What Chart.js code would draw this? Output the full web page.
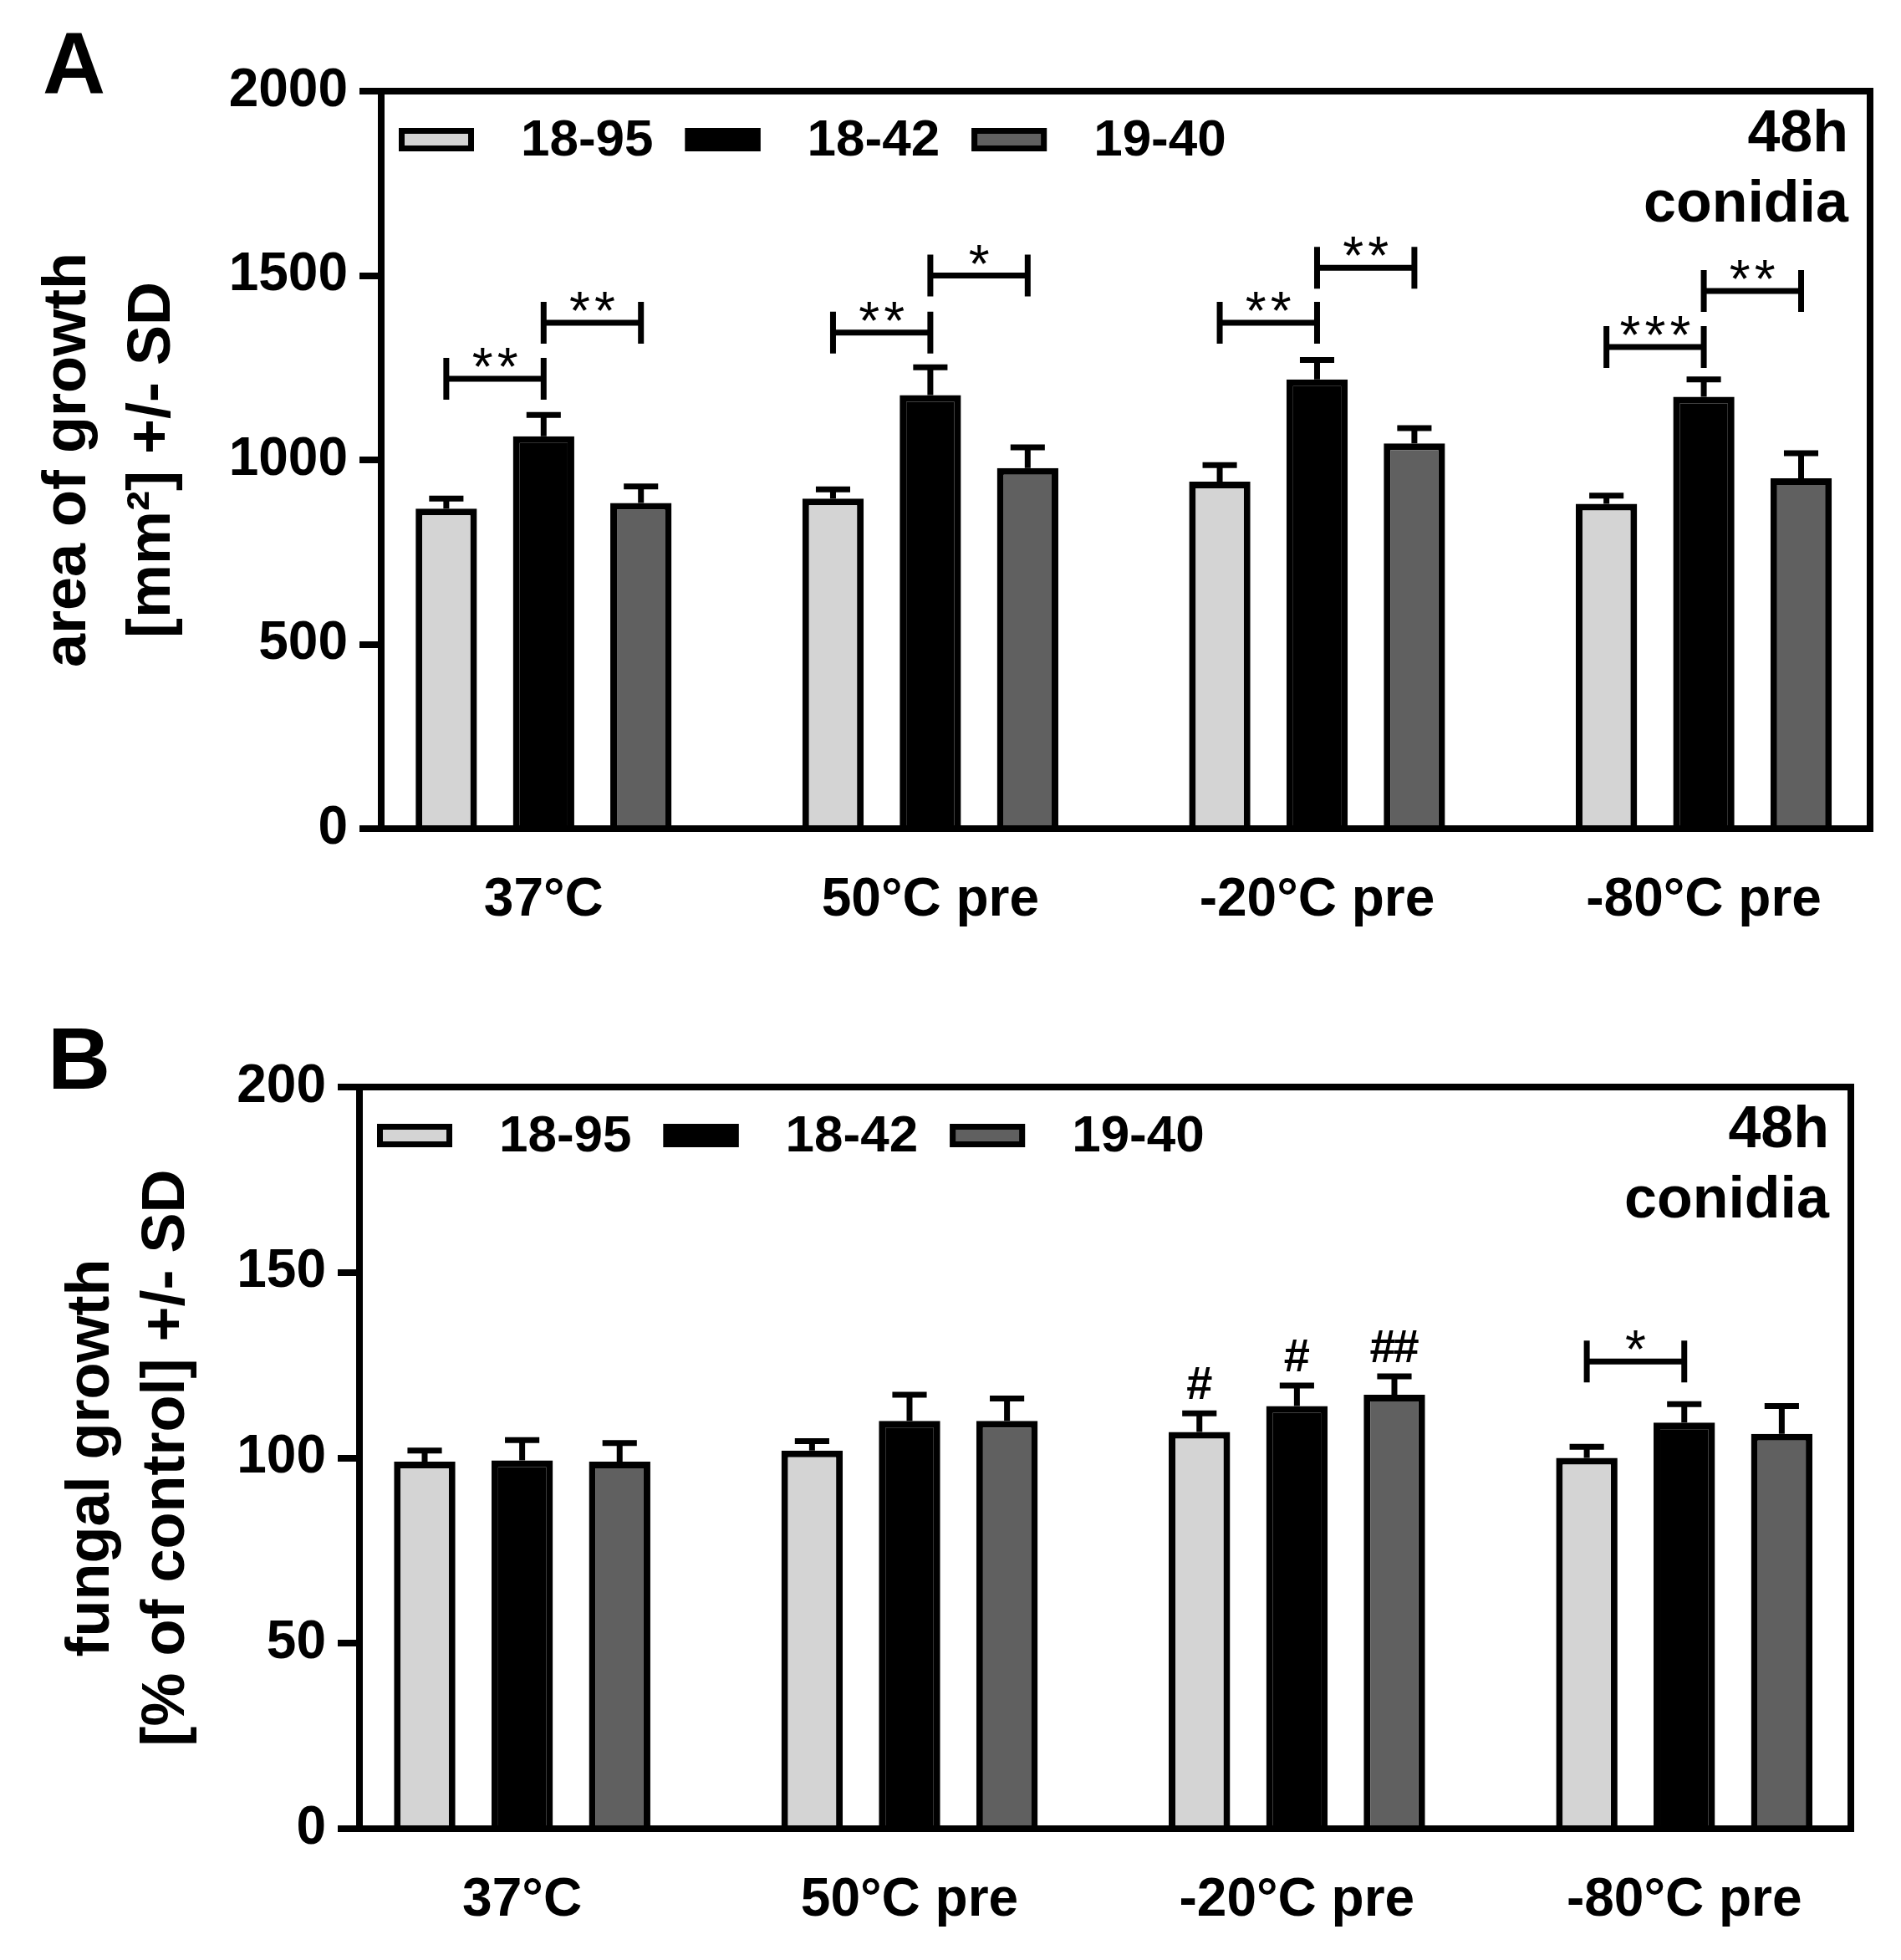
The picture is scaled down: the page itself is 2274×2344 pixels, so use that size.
<!DOCTYPE html>
<html>
<head>
<meta charset="utf-8">
<title>Fungal growth after temperature pre-treatment</title>
<script src="https://cdn.jsdelivr.net/npm/chart.js@4.4.1/dist/chart.umd.min.js"></script>
<style>
  body { margin: 0; background: #fff; }
  #wrap { position: relative; width: 2274px; height: 2344px; background: #fff; }
  canvas { position: absolute; left: 0; }
</style>
</head>
<body>
<div id="wrap">
  <canvas id="chartA" width="2274" height="1170" style="top:0px"></canvas>
  <canvas id="chartB" width="2274" height="1174" style="top:1170px"></canvas>
</div>
<script>
const groups = ['37°C', '50°C pre', '-20°C pre', '-80°C pre'];
const strains = ['18-95', '18-42', '19-40'];
const strainColors = ['#d4d4d4', '#000000', '#606060'];

// panel A - area of growth [mm2], mean and SD per strain
const areaMean1895 = [868, 895, 941, 881];
const areaSd1895 = [27, 25, 45, 22];
const areaMean1842 = [1064, 1176, 1218, 1171];
const areaSd1842 = [58, 75, 53, 47];
const areaMean1940 = [883, 978, 1045, 950];
const areaSd1940 = [45, 56, 41, 68];

// panel B - fungal growth [% of control], mean and SD per strain
const fungalMean1895 = [99, 102, 107, 100];
const fungalSd1895 = [3, 2.5, 5, 3];
const fungalMean1842 = [99.3, 110, 114, 109.5];
const fungalSd1842 = [5.5, 7, 5.5, 5];
const fungalMean1940 = [99, 110, 117, 106.5];
const fungalSd1940 = [5, 6, 5, 7.5];

// significance brackets: group, from strain, to strain, height, label
const areaBrackets = [
    [0, 0, 1, 1220, '**'], [0, 1, 2, 1372, '**'],
    [1, 0, 1, 1345, '**'], [1, 1, 2, 1500, '*'],
    [2, 0, 1, 1372, '**'], [2, 1, 2, 1521, '**'],
    [3, 0, 1, 1306, '***'], [3, 1, 2, 1458, '**']
];
const fungalBrackets = [
    [3, 0, 1, 126, '*']
];
// marks above single bars: group, strain, label
const fungalHashes = [
    [2, 0, '#'], [2, 1, '#'], [2, 2, '##']
];

const FONT = "'Liberation Sans', Arial, Helvetica, sans-serif";
Chart.defaults.font.family = FONT;
Chart.defaults.color = '#000';

function drawMarks(ctx, text, cx, bottom, font, step) {
    ctx.font = font;
    ctx.textAlign = 'center';
    ctx.textBaseline = 'alphabetic';
    const m = ctx.measureText(text[0]);
    const base = bottom - m.actualBoundingBoxDescent;
    const start = cx - step * (text.length - 1) / 2;
    for (let i = 0; i < text.length; i++) {
        ctx.fillText(text[i], start + i * step, base);
    }
}

function buildChart(id, opts) {
    const datasets = strains.map((name, s) => ({
        label: name,
        data: opts.means[s].map((v, g) => ({ x: g, y: v })),
        sd: opts.sds[s],
        backgroundColor: strainColors[s],
        borderColor: '#000',
        borderWidth: 8,
        categoryPercentage: 0.755,
        barPercentage: 0.63
    }));

    const decor = {
        id: 'decor',
        afterDatasetsDraw(chart) {
            const ctx = chart.ctx;
            const area = chart.chartArea;
            const y = chart.scales.y;
            ctx.save();
            ctx.strokeStyle = '#000';
            ctx.fillStyle = '#000';

            // frame on top and right
            ctx.lineWidth = 8;
            ctx.beginPath();
            ctx.moveTo(area.left - 4, area.top);
            ctx.lineTo(area.right, area.top);
            ctx.lineTo(area.right, area.bottom + 4);
            ctx.stroke();

            // error bars (upper SD only)
            ctx.lineWidth = 7;
            chart.data.datasets.forEach((ds, s) => {
                chart.getDatasetMeta(s).data.forEach((bar, g) => {
                    const top = y.getPixelForValue(ds.data[g].y + ds.sd[g]);
                    const half = bar.width * 0.28;
                    ctx.beginPath();
                    ctx.moveTo(bar.x, bar.y);
                    ctx.lineTo(bar.x, top);
                    ctx.moveTo(bar.x - half, top);
                    ctx.lineTo(bar.x + half, top);
                    ctx.stroke();
                });
            });

            // significance brackets
            opts.brackets.forEach(([g, a, b, v, label]) => {
                const x1 = chart.getDatasetMeta(a).data[g].x;
                const x2 = chart.getDatasetMeta(b).data[g].x;
                const py = y.getPixelForValue(v);
                ctx.lineWidth = 7;
                ctx.beginPath();
                ctx.moveTo(x1, py);
                ctx.lineTo(x2, py);
                ctx.moveTo(x1, py - 25);
                ctx.lineTo(x1, py + 25);
                ctx.moveTo(x2, py - 25);
                ctx.lineTo(x2, py + 25);
                ctx.stroke();
                drawMarks(ctx, label, (x1 + x2) / 2, py - 14, '64px ' + FONT, 30);
            });

            // # marks above bars
            opts.hashes.forEach(([g, s, label]) => {
                const ds = chart.data.datasets[s];
                const bar = chart.getDatasetMeta(s).data[g];
                const cap = y.getPixelForValue(ds.data[g].y + ds.sd[g]);
                drawMarks(ctx, label, bar.x, cap - 17, 'bold 56px ' + FONT, 28);
            });

            // legend inside plot
            ctx.font = 'bold 62px ' + FONT;
            ctx.textAlign = 'left';
            ctx.textBaseline = 'middle';
            let lx = area.left + 21;
            const ly = area.top + 58;
            chart.data.datasets.forEach((ds) => {
                ctx.fillStyle = ds.backgroundColor;
                ctx.fillRect(lx, ly - 14, 90, 28);
                ctx.lineWidth = 7;
                ctx.strokeRect(lx + 3.5, ly - 10.5, 83, 21);
                ctx.fillStyle = '#000';
                ctx.fillText(ds.label, lx + 146, ly + 2);
                lx += 146 + ctx.measureText(ds.label).width + 38;
            });

            // corner note
            ctx.textAlign = 'right';
            ctx.textBaseline = 'alphabetic';
            ctx.font = 'bold 70px ' + FONT;
            ctx.fillText('48h', area.right - 26, area.top + 72);
            ctx.fillText('conidia', area.right - 26, area.top + 156);

            // panel letter
            ctx.textAlign = 'left';
            ctx.font = 'bold 104px ' + FONT;
            ctx.fillText(opts.letter, opts.letterX, area.top + 2);
            ctx.restore();
        }
    };

    return new Chart(document.getElementById(id), {
        type: 'bar',
        data: { datasets: datasets },
        options: {
            responsive: false,
            animation: false,
            layout: { padding: { top: opts.padTop, right: opts.padRight, left: 0, bottom: 0 } },
            plugins: {
                legend: { display: false },
                tooltip: { enabled: false }
            },
            scales: {
                x: {
                    type: 'linear',
                    min: -0.42,
                    max: 3.43,
                    bounds: 'data',
                    offset: false,
                    afterBuildTicks: (scale) => {
                        scale.ticks = groups.map((_, i) => ({ value: i }));
                    },
                    afterFit: (scale) => { scale.height = opts.xHeight; },
                    ticks: {
                        callback: (v, i) => groups[i],
                        font: { size: 64, weight: 'bold' },
                        padding: 48,
                        maxRotation: 0,
                        autoSkip: false,
                        color: '#000'
                    },
                    grid: { display: true, offset: false, drawOnChartArea: false, drawTicks: false, lineWidth: 8, color: '#000' },
                    border: { display: true, width: 8, color: '#000' }
                },
                y: {
                    min: 0,
                    max: opts.yMax,
                    afterFit: (scale) => { scale.width = opts.yWidth; },
                    ticks: {
                        stepSize: opts.yStep,
                        callback: (v) => String(v),
                        font: { size: 64, weight: 'bold' },
                        padding: 14,
                        color: '#000'
                    },
                    grid: {
                        drawOnChartArea: false,
                        drawTicks: true,
                        tickLength: 26,
                        tickWidth: 8,
                        tickColor: '#000',
                        color: '#000',
                        lineWidth: 8
                    },
                    border: { display: true, width: 8, color: '#000' },
                    title: {
                        display: true,
                        text: opts.yTitle,
                        font: { size: 72, weight: 'bold', lineHeight: opts.titleLine },
                        padding: { top: opts.titlePad, bottom: 0 },
                        color: '#000'
                    }
                }
            }
        },
        plugins: [decor]
    });
}

buildChart('chartA', {
    means: [areaMean1895, areaMean1842, areaMean1940],
    sds: [areaSd1895, areaSd1842, areaSd1940],
    brackets: areaBrackets,
    hashes: [],
    yMax: 2000,
    yStep: 500,
    yTitle: ['area of growth', '[mm²] +/- SD'],
    titleLine: 1.4,
    titlePad: 32,
    yWidth: 456,
    xHeight: 179,
    padTop: 109,
    padRight: 37,
    letter: 'A',
    letterX: 51
});

buildChart('chartB', {
    means: [fungalMean1895, fungalMean1842, fungalMean1940],
    sds: [fungalSd1895, fungalSd1842, fungalSd1940],
    brackets: fungalBrackets,
    hashes: fungalHashes,
    yMax: 200,
    yStep: 50,
    yTitle: ['fungal growth', '[% of control] +/- SD'],
    titleLine: 1.24,
    titlePad: 66,
    yWidth: 430,
    xHeight: 157,
    padTop: 130,
    padRight: 60,
    letter: 'B',
    letterX: 57
});
</script>
</body>
</html>
